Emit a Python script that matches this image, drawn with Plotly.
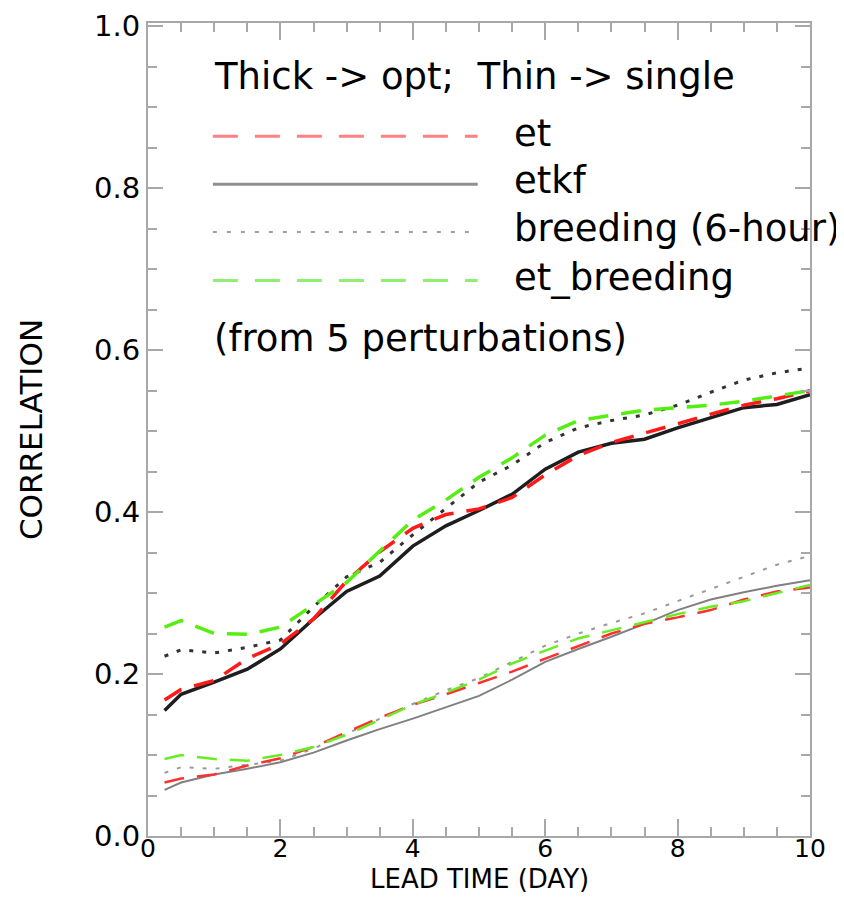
import plotly.graph_objects as go

# Lead time (days)
lead = [0.25, 0.5, 1.0, 1.5, 2.0, 2.5, 3.0, 3.5, 4.0, 4.5, 5.0, 5.5, 6.0, 6.5, 7.0, 7.5, 8.0, 8.5, 9.0, 9.5, 10.0]

# Thick -> optimal combination
et_opt = [0.168, 0.181, 0.192, 0.219, 0.237, 0.268, 0.315, 0.351, 0.380, 0.397, 0.404, 0.418, 0.446, 0.470, 0.486, 0.497, 0.509, 0.521, 0.532, 0.540, 0.550]
etkf_opt = [0.155, 0.175, 0.190, 0.206, 0.231, 0.268, 0.302, 0.321, 0.358, 0.383, 0.402, 0.422, 0.453, 0.474, 0.485, 0.490, 0.504, 0.517, 0.529, 0.533, 0.545]
breeding_opt = [0.222, 0.230, 0.226, 0.233, 0.242, 0.283, 0.320, 0.338, 0.372, 0.405, 0.437, 0.458, 0.486, 0.504, 0.513, 0.520, 0.532, 0.548, 0.563, 0.572, 0.578]
etbreeding_opt = [0.258, 0.266, 0.250, 0.249, 0.258, 0.285, 0.313, 0.352, 0.390, 0.415, 0.443, 0.467, 0.495, 0.513, 0.520, 0.526, 0.529, 0.532, 0.537, 0.543, 0.550]

# Thin -> single
et_single = [0.066, 0.071, 0.076, 0.087, 0.096, 0.110, 0.128, 0.146, 0.162, 0.175, 0.189, 0.203, 0.219, 0.235, 0.250, 0.262, 0.270, 0.279, 0.292, 0.302, 0.307]
etkf_single = [0.057, 0.066, 0.076, 0.083, 0.091, 0.103, 0.118, 0.132, 0.145, 0.159, 0.173, 0.193, 0.215, 0.231, 0.246, 0.262, 0.279, 0.292, 0.301, 0.309, 0.316]
breeding_single = [0.078, 0.085, 0.083, 0.088, 0.093, 0.108, 0.126, 0.145, 0.163, 0.180, 0.195, 0.215, 0.235, 0.250, 0.263, 0.275, 0.290, 0.305, 0.320, 0.335, 0.346]
etbreeding_single = [0.095, 0.100, 0.095, 0.093, 0.100, 0.110, 0.125, 0.143, 0.162, 0.177, 0.193, 0.213, 0.229, 0.244, 0.254, 0.264, 0.274, 0.283, 0.290, 0.300, 0.310]

x_ticks = [0, 2, 4, 6, 8, 10]
y_ticks = [0.0, 0.2, 0.4, 0.6, 0.8, 1.0]

legend_names = ["et", "etkf", "breeding (6-hour)", "et_breeding"]

FONT = "DejaVu Sans"
AX = "#a8a8a8"

fig = go.Figure()

def add(y, color, width, dash):
    fig.add_trace(go.Scatter(x=lead, y=y, mode="lines",
                             line=dict(color=color, width=width, dash=dash),
                             showlegend=False, hoverinfo="skip"))

# thin (single)
add(etkf_single, "#808080", 2, "solid")
add(breeding_single, "#9a9a9a", 2, "4px,9px")
add(et_single, "#ff3030", 2.5, "20px,13px")
add(etbreeding_single, "#66ee22", 2.5, "20px,13px")
# thick (opt)
add(etkf_opt, "#1e1e1e", 3.5, "solid")
add(breeding_opt, "#333333", 3, "4px,9px")
add(et_opt, "#ff1a1a", 3.5, "20px,13px")
add(etbreeding_opt, "#55ee11", 3.5, "20px,13px")

# manual legend (drawn inside the plot, like the original)
leg_y = [0.864, 0.805, 0.746, 0.686]
leg_style = [("#ff8080", 3, "25px,17px"), ("#909090", 3, "solid"),
             ("#a0a0a0", 2, "4px,10px"), ("#90ee70", 3, "25px,17px")]
for name, yy, (c, w, d) in zip(legend_names, leg_y, leg_style):
    fig.add_shape(type="line", xref="x", yref="y", x0=0.98, x1=4.98, y0=yy, y1=yy,
                  line=dict(color=c, width=w, dash=d))
    fig.add_annotation(x=5.5, y=yy + 0.004, xref="x", yref="y", text=name, showarrow=False,
                       xanchor="left", yanchor="middle",
                       font=dict(family=FONT, size=37, color="black"))

fig.add_annotation(x=0.97, y=0.938, xref="x", yref="y", text="Thick -> opt;  Thin -> single",
                   showarrow=False, xanchor="left", yanchor="middle",
                   font=dict(family=FONT, size=37, color="black"))
fig.add_annotation(x=0.97, y=0.615, xref="x", yref="y", text="(from 5 perturbations)",
                   showarrow=False, xanchor="left", yanchor="middle",
                   font=dict(family=FONT, size=37, color="black"))

# x-axis title placed just under the tick labels
fig.add_annotation(x=0.5, y=-0.053, xref="paper", yref="paper", text="LEAD TIME (DAY)",
                   showarrow=False, xanchor="center", yanchor="middle",
                   font=dict(family=FONT, size=26, color="black"))

fig.update_layout(
    width=844, height=899,
    paper_bgcolor="white", plot_bgcolor="white",
    margin=dict(l=140, r=42, t=15, b=71),
    font=dict(family=FONT, color="black"),
)
fig.update_xaxes(
    range=[0, 10], tickvals=x_ticks, ticktext=[str(v) for v in x_ticks],
    ticks="inside", ticklen=17, tickwidth=2, tickcolor=AX,
    minor=dict(ticks="inside", ticklen=9, dtick=0.5, tickwidth=2, tickcolor=AX, showgrid=False),
    showline=True, linecolor=AX, linewidth=2, mirror="allticks",
    showgrid=False, zeroline=False,
    tickfont=dict(family=FONT, size=25, color="black"),
    ticklabelstandoff=-11,
    automargin=False,
)
fig.update_yaxes(
    range=[0, 1.004], tickvals=y_ticks, ticktext=["%.1f" % v for v in y_ticks],
    ticks="inside", ticklen=15, tickwidth=2, tickcolor=AX,
    minor=dict(ticks="inside", ticklen=9, dtick=0.05, tickwidth=2, tickcolor=AX, showgrid=False),
    showline=True, linecolor=AX, linewidth=2, mirror="allticks",
    showgrid=False, zeroline=False,
    tickfont=dict(family=FONT, size=29, color="black"),
    title=dict(text="CORRELATION", font=dict(family=FONT, size=31, color="black"), standoff=42),
    automargin=False,
)

fig.write_html("out.html")
